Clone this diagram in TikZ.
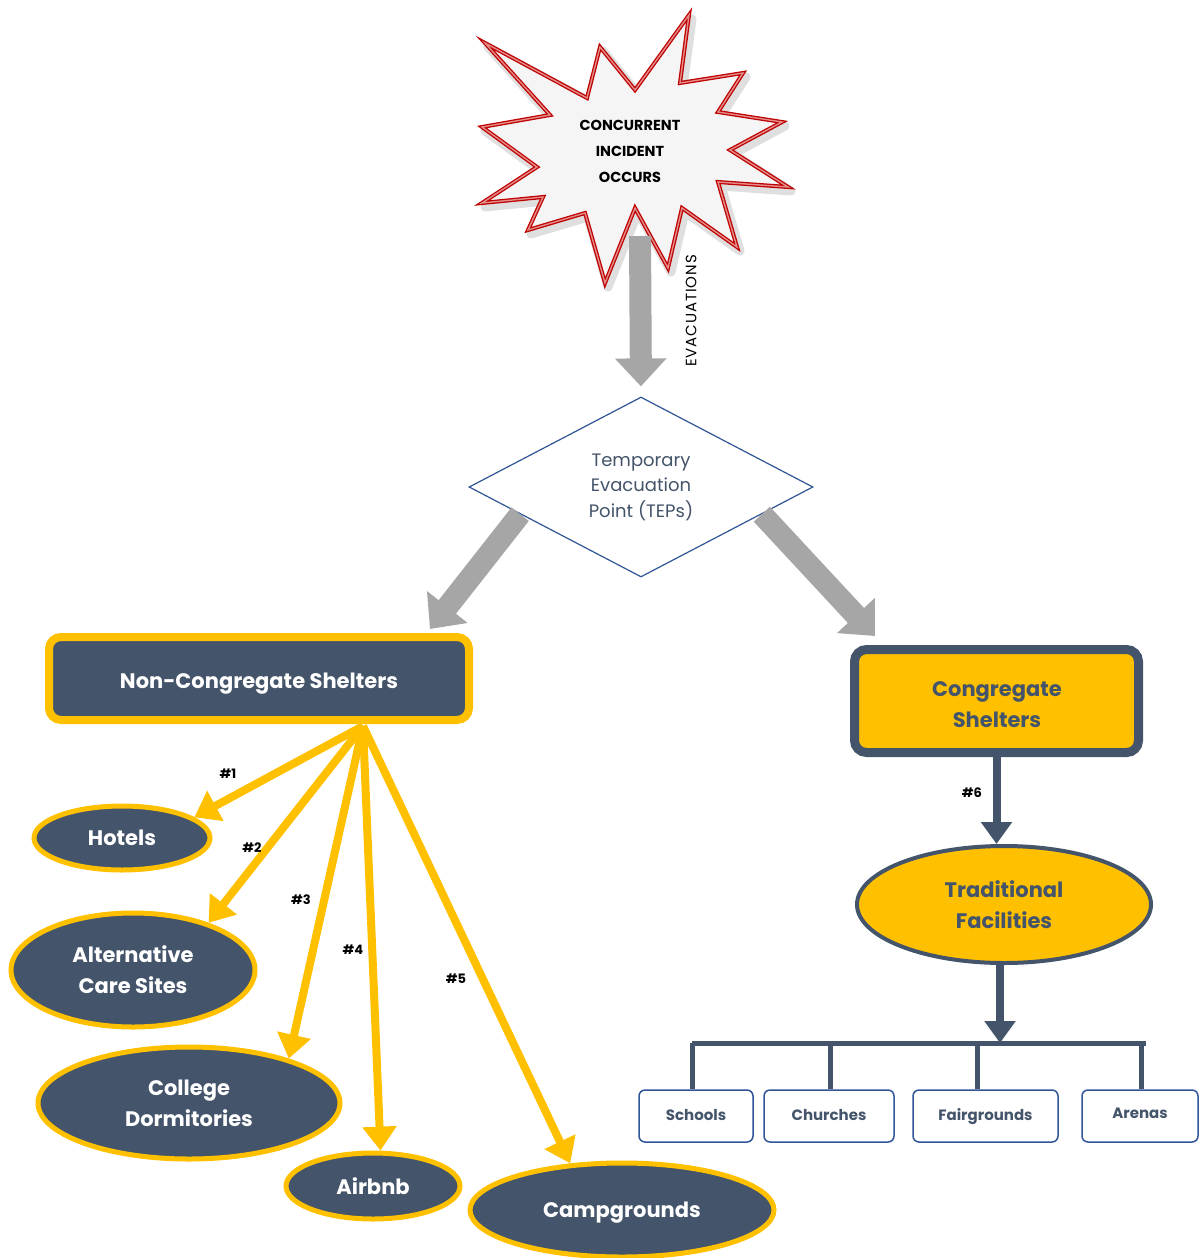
\documentclass[tikz,border=0pt]{standalone}
\usepackage{fontspec}
\setmainfont{Poppins}
\usetikzlibrary{arrows.meta,shapes.geometric,calc}
\definecolor{dk}{HTML}{44546A}
\definecolor{yc}{HTML}{FFC000}
\definecolor{rc}{HTML}{C00000}
\definecolor{bc}{HTML}{2F5597}
\definecolor{gc}{HTML}{A6A6A6}
\tikzset{
  oval/.style={ellipse, draw=yc, line width=5pt, fill=dk, text=white, font=\bfseries\fontsize{21}{31}\selectfont, inner sep=0pt, align=center},
  ya/.style={draw=yc, line width=8pt, -{Triangle[width=33pt,length=24pt]}},
  ga/.style={draw=gc, line width=22pt, -{Triangle[width=50pt,length=28pt]}},
  da/.style={draw=dk, line width=8pt, -{Triangle[width=30pt,length=22pt]}},
  lbl/.style={font=\bfseries\fontsize{13}{15}\selectfont, inner sep=0pt},
  sbox/.style={draw=bc, line width=1.5pt, rounded corners=6pt, minimum height=52pt, text=dk, font=\bfseries\fontsize{15}{18}\selectfont, inner sep=0pt, text height=11pt, text depth=3pt},
  bigbox/.style={rounded corners=12pt, inner sep=0pt},
  boxtext/.style={inner sep=0pt, align=center, font=\bfseries\fontsize{21}{31}\selectfont}
}
\begin{document}
\begin{tikzpicture}[x=1pt,y=-1pt]
\useasboundingbox (0,0) rectangle (1199,1258);
% starburst
\def\starpath{(485,43) -- (587,98) -- (600,47) -- (635,90) -- (689,15) -- (680,83) -- (743,73) -- (718,112) -- (782,122) -- (730,150) -- (788,187) -- (718,182) -- (737,247) -- (682,208) -- (668,268) -- (635,208) -- (605,283) -- (585,213) -- (528,230) -- (543,197) -- (482,203) -- (537,167) -- (482,127) -- (550,115) -- cycle}
\draw[gray!25, line width=9pt, line join=round, shift={(3,4)}] \starpath;
\filldraw[fill=black!4, draw=rc, line width=1.3pt, double=rc!45, double distance=1.4pt, line join=miter] \starpath;
\node[align=center, font=\bfseries\fontsize{14.5}{26}\selectfont, inner sep=0pt] (star) at (630,151) {CONCURRENT\\INCIDENT\\OCCURS};
\coordinate (starbot) at (640,236);

% TEP diamond
\node[diamond, draw=bc, line width=1.2pt, fill=white, minimum width=344pt, minimum height=180pt, aspect=1.91, inner sep=0pt, align=center, text=dk, font=\fontsize{18}{25.5}\selectfont] (tep) at (641,487) {Temporary\\Evacuation\\Point (TEPs)};
\draw[ga, shorten >=10pt] (starbot) -- (tep.north);
\node[rotate=90, font=\fontsize{15}{16}\selectfont\addfontfeatures{LetterSpace=6}, inner sep=0pt] (evac) at (691,311) {EVACUATIONS};

% shelters boxes
\node[bigbox, draw=yc, line width=8pt, fill=dk, minimum width=420pt, minimum height=83pt] (nc) at (259,678.5) {};
\node[boxtext, text=white] (nctext) at (259,684) {Non-Congregate Shelters};
\node[bigbox, draw=dk, line width=9pt, fill=yc, minimum width=284pt, minimum height=103pt] (cs) at (996.5,701) {};
\node[boxtext, text=dk] (cstext) at (997,705) {Congregate\\Shelters};

\coordinate (ncin) at (430,629);
\coordinate (csin) at (875,636);
\draw[ga] ($(tep.west)!0.3!(tep.south)$) -- (ncin);
\draw[ga] ($(tep.east)!0.3!(tep.south)$) -- (csin);

% non-congregate options
\node[oval, minimum width=176pt, minimum height=64pt] (hotels) at (122,838) {Hotels};
\node[oval, minimum width=244pt, minimum height=114pt] (alt) at (133,970) {Alternative\\Care Sites};
\node[oval, minimum width=302pt, minimum height=112pt] (coll) at (189,1103) {College\\Dormitories};
\node[oval, minimum width=174pt, minimum height=66pt] (air) at (373,1186) {Airbnb};
\node[oval, minimum width=304pt, minimum height=94pt] (camp) at (622,1210) {};
\node[boxtext, text=white] (camptext) at (622,1213) {Campgrounds};

\coordinate (src) at (363,726);
\draw[ya] (src) -- (hotels.16);
\draw[ya] (src) -- (alt.32);
\draw[ya] (src) -- (coll.24);
\draw[ya] (src) -- (air.78);
\draw[ya] (src) -- (camp.138);
\node[lbl] (l1) at (228,774) {\#1};
\node[lbl] (l2) at (252,848) {\#2};
\node[lbl] (l3) at (301,900) {\#3};
\node[lbl] (l4) at (353,950) {\#4};
\node[lbl] (l5) at (456,979) {\#5};

% congregate branch
\node[ellipse, draw=dk, line width=4pt, fill=yc, text=dk, minimum width=294pt, minimum height=117pt, inner sep=0pt, align=center, font=\bfseries\fontsize{21}{31}\selectfont] (trad) at (1004,904.5) {Traditional\\Facilities};
\draw[da] (cs.south) -- (cs.south |- trad.north);
\node[lbl] (l6) at (972,793) {\#6};

\node[sbox, minimum width=114pt] (schools) at (696,1116) {Schools};
\node[sbox, minimum width=130pt] (churches) at (829,1116) {Churches};
\node[sbox, minimum width=145pt] (fair) at (985.5,1116) {Fairgrounds};
\node[sbox, minimum width=116pt] (arenas) at (1140,1116) {\raisebox{2pt}{Arenas}};

\coordinate (bar) at (1000,1043);
\draw[da] (trad.south -| bar) -- (bar);
\draw[dk, line width=5pt] (692,1043) -- (1146,1043);
\foreach \b/\x in {schools/692, churches/830, fair/977, arenas/1141}{
  \draw[dk, line width=5pt] (\x,1043) -- (\b.north -| \x,0);
}
\end{tikzpicture}
\end{document}
